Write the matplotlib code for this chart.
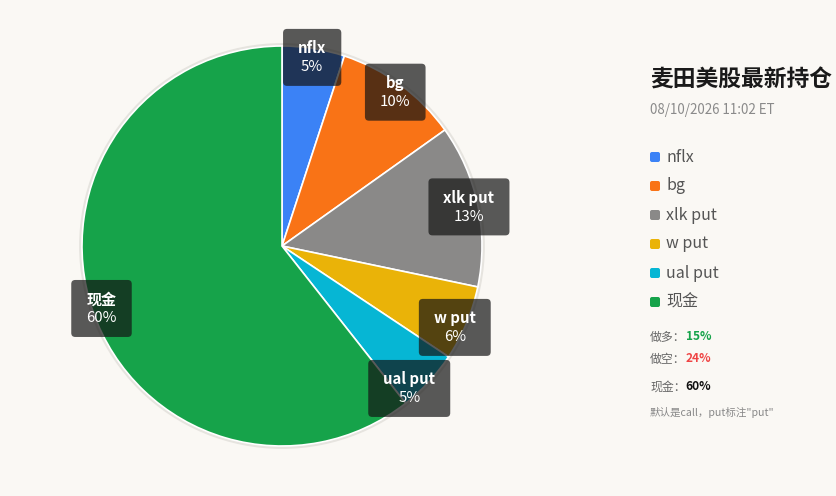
import numpy as np
import matplotlib.pyplot as plt
from matplotlib.patches import Circle, FancyBboxPatch

plt.rcParams['font.family'] = ['Noto Sans CJK SC', 'DejaVu Sans']

# holdings data (percent of portfolio)
names = ['nflx', 'bg', 'xlk put', 'w put', 'ual put', '现金']
weights = [5, 10, 13, 6, 5, 60]
colors = ['#3b82f6', '#f97316', '#8a8988', '#eab308', '#06b6d4', '#16a34a']

title = '麦田美股最新持仓'
stamp = '08/10/2026 11:02 ET'
summary = [('做多：', '15%', '#16a34a'), ('做空：', '24%', '#ef4444'), ('现金：', '60%', '#111111')]
note = '默认是call，put标注"put"'

BG = '#faf8f4'
W, H = 836, 496

fig = plt.figure(figsize=(W / 100, H / 100), dpi=100, facecolor=BG)
ax = fig.add_axes([0, 0, 1, 1])

cx, cy, R = 282, H - 246, 200

wedges, _ = ax.pie(weights, colors=colors, startangle=90, counterclock=False,
                   center=(cx, cy), radius=R,
                   wedgeprops=dict(edgecolor='white', linewidth=1.2))
for w in wedges:
    w.set_zorder(2)
ax.add_patch(Circle((cx, cy), R + 1.5, facecolor='none', edgecolor='#e6e4df', lw=2, zorder=1))

ax.set_xlim(0, W)
ax.set_ylim(0, H)
ax.set_aspect('equal')
ax.axis('off')

renderer = fig.canvas.get_renderer()

# label boxes along mid-angles (small nudges to avoid overlap)
nudge = {'w put': 2.5, 'ual put': 5.5}
total = sum(weights)
acc = 0
for name, v in zip(names, weights):
    mid = (acc + v / 2) / total * 360 + nudge.get(name, 0)
    acc += v
    a = np.deg2rad(90 - mid)
    lx, ly = cx + 191 * np.cos(a), cy + 191 * np.sin(a)
    t1 = ax.text(lx, ly + 9, name, fontsize=10.8, color='white', weight='bold',
                 ha='center', va='center', zorder=4)
    t2 = ax.text(lx, ly - 10, f'{v}%', fontsize=10.8, color='white',
                 ha='center', va='center', zorder=4)
    tw = max(t1.get_window_extent(renderer).width, t2.get_window_extent(renderer).width)
    bw, bh = tw + 30, 57
    ax.add_patch(FancyBboxPatch((lx - bw / 2, ly - bh / 2), bw, bh,
                                boxstyle='round,pad=0,rounding_size=4',
                                fc=(0.08, 0.08, 0.08), alpha=0.7, ec='none', zorder=3))

# right panel
ax.text(650, H - 80, title, fontsize=16.4, weight='bold', color='#1a1a1a', va='center')
ax.text(650, H - 110, stamp, fontsize=9.6, color='#8a8a8a', va='center')

for i, (name, c) in enumerate(zip(names, colors)):
    y = 157 + 29 * i
    ax.add_patch(FancyBboxPatch((650, H - y - 5), 10, 10, boxstyle='round,pad=0,rounding_size=2',
                                fc=c, ec='none'))
    ax.text(666, H - y, name, fontsize=11.5, color='#555555', va='center')

for i, (lab, val, c) in enumerate(summary):
    y = [337, 359, 387][i]
    t = ax.text(650, H - y, lab, fontsize=8.6, color='#666666', va='center')
    ax.annotate(val, xycoords=t, xy=(1, 0.5), va='center', fontsize=8.6,
                color=c, weight='bold')
ax.text(650, H - 412, note, fontsize=7.6, color='#888888', va='center')

fig.savefig('out.png', dpi=100, facecolor=BG)
